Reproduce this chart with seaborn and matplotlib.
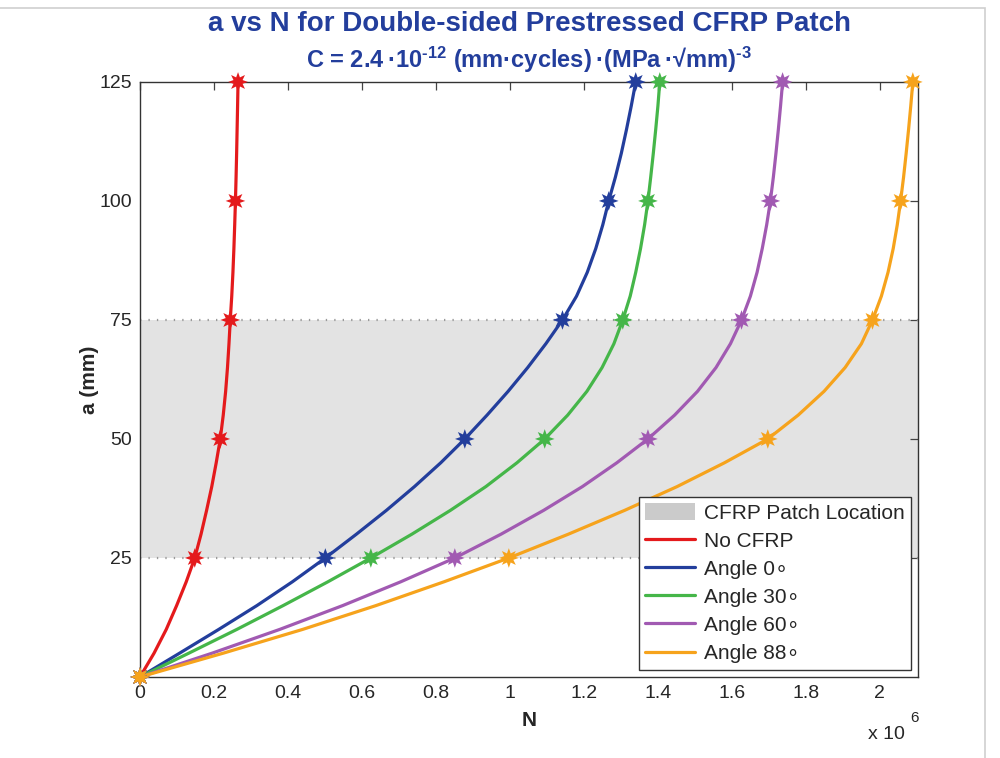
import matplotlib
matplotlib.use("Agg")
import numpy as np
import pandas as pd
import seaborn as sns
import matplotlib.pyplot as plt
from matplotlib.patches import Patch, Rectangle
from matplotlib.lines import Line2D

# crack length a (mm) at which the number of cycles is tabulated
a_mm = [0, 5, 10, 15, 20, 25, 30, 35, 40, 45, 50, 55, 60, 65, 70,
        75, 80, 85, 90, 95, 100, 105, 110, 115, 120, 125]

# number of cycles N (x 10^6) for each configuration
N_no_cfrp = [0, 0.038, 0.071, 0.099, 0.125, 0.148, 0.165, 0.180, 0.194, 0.206,
             0.217, 0.225, 0.2315, 0.2365, 0.2405, 0.244, 0.248, 0.2512, 0.2538,
             0.256, 0.258, 0.2597, 0.2612, 0.2625, 0.2638, 0.265]
N_angle0 = [0, 0.107, 0.213, 0.316, 0.412, 0.501, 0.585, 0.666, 0.742, 0.813,
            0.878, 0.938, 0.995, 1.048, 1.097, 1.142, 1.180, 1.209, 1.232,
            1.251, 1.267, 1.285, 1.301, 1.315, 1.328, 1.340]
N_angle30 = [0, 0.132, 0.262, 0.387, 0.508, 0.624, 0.735, 0.839, 0.935, 1.019,
             1.094, 1.156, 1.208, 1.249, 1.281, 1.305, 1.325, 1.340, 1.353,
             1.364, 1.373, 1.3805, 1.3875, 1.394, 1.400, 1.405]
N_angle60 = [0, 0.195, 0.378, 0.548, 0.705, 0.851, 0.976, 1.091, 1.196, 1.289,
             1.373, 1.445, 1.507, 1.557, 1.596, 1.626, 1.650, 1.668, 1.682,
             1.694, 1.704, 1.712, 1.719, 1.7255, 1.7315, 1.737]
N_angle88 = [0, 0.225, 0.440, 0.638, 0.822, 0.997, 1.158, 1.310, 1.452, 1.580,
             1.697, 1.779, 1.849, 1.906, 1.950, 1.980, 2.004, 2.022, 2.036,
             2.047, 2.056, 2.064, 2.071, 2.0775, 2.0835, 2.089]

series_names = ["No CFRP", "Angle 0\u2218", "Angle 30\u2218", "Angle 60\u2218", "Angle 88\u2218"]
series_values = [N_no_cfrp, N_angle0, N_angle30, N_angle60, N_angle88]
marked_a = [0, 25, 50, 75, 100, 125]

patch_bottom, patch_top = 25, 75
x_ticks = [0, 0.2, 0.4, 0.6, 0.8, 1.0, 1.2, 1.4, 1.6, 1.8, 2.0]
x_tick_labels = ["0", "0.2", "0.4", "0.6", "0.8", "1", "1.2", "1.4", "1.6", "1.8", "2"]
y_ticks = [25, 50, 75, 100, 125]

colors = ["#e41a1c", "#233e9c", "#45b649", "#a15ab2", "#f6a31c"]

df = pd.concat(
    [pd.DataFrame({"series": name, "a": a_mm, "N": vals})
     for name, vals in zip(series_names, series_values)],
    ignore_index=True,
)
marks = df[df["a"].isin(marked_a)]

sns.set_style("white")
plt.rcParams["font.family"] = ["Liberation Sans", "DejaVu Sans"]
plt.rcParams["mathtext.fontset"] = "custom"
plt.rcParams["mathtext.rm"] = "Liberation Sans:bold"
plt.rcParams["mathtext.it"] = "Liberation Sans:bold"
plt.rcParams["mathtext.bf"] = "Liberation Sans:bold"
plt.rcParams["mathtext.default"] = "rm"

fig = plt.figure(figsize=(10, 7.58), dpi=100)
ax = fig.add_axes([0.14, 0.1069, 0.778, 0.785])

# CFRP patch band
band_color = "#e3e3e3"
ax.axhspan(patch_bottom, patch_top, color=band_color, zorder=0, lw=0)
for yb in (patch_bottom, patch_top):
    ax.axhline(yb, color="#9a9a9a", lw=1.6, linestyle=(0, (0.6, 3.2)), zorder=1)

palette = dict(zip(series_names, colors))
sns.lineplot(data=df, x="N", y="a", hue="series", hue_order=series_names,
             palette=palette, sort=False, estimator=None, lw=2.3,
             legend=False, ax=ax, zorder=3)
sns.scatterplot(data=marks, x="N", y="a", hue="series", hue_order=series_names,
                palette=palette, marker=(8, 1, 0), s=200, linewidth=0,
                legend=False, ax=ax, zorder=4)
for coll in ax.collections:
    coll.set_clip_on(False)

ax.set_xlim(0, 2.103)
ax.set_ylim(0, 125)
ax.set_xticks(x_ticks)
ax.set_xticklabels(x_tick_labels)
ax.set_yticks(y_ticks)
ax.tick_params(direction="in", top=True, right=True, length=6, width=0.9,
               color="#444444", labelsize=14, pad=6)
for sp in ax.spines.values():
    sp.set_color("#333333")
    sp.set_linewidth(1.0)

ax.set_xlabel("N", fontsize=15, fontweight="bold", labelpad=6)
ax.set_ylabel("a (mm)", fontsize=15, fontweight="bold", labelpad=0)

fig.text(0.529, 0.985, "a vs N for Double-sided Prestressed CFRP Patch",
         ha="center", va="top", fontsize=20, fontweight="bold", color="#233e9c")
thin = "\u2009"
fig.text(0.529, 0.941,
         "C = 2.4" + thin + "\u00b7" + "10$^{\\text{-12}}$ (mm\u00b7cycles)" + thin
         + "\u00b7(MPa" + thin + "\u00b7\u221amm)$^{\\text{-3}}$",
         ha="center", va="top", fontsize=17, fontweight="bold", color="#233e9c")

# axis multiplier
fig.text(0.868, 0.020, "x 10", fontsize=14, ha="left", va="bottom")
fig.text(0.910, 0.044, "6", fontsize=11, ha="left", va="bottom")

handles = [Patch(facecolor="#cbcbcb", edgecolor="none", label="CFRP Patch Location")]
handles += [Line2D([], [], color=c, lw=2.3, label=n) for n, c in zip(series_names, colors)]
leg = ax.legend(handles=handles, loc="lower right", fontsize=15, frameon=True,
                fancybox=False, edgecolor="#333333", framealpha=1,
                handlelength=2.4, handleheight=0.9, labelspacing=0.4,
                handletextpad=0.4, borderpad=0.3, borderaxespad=0.35)
leg.get_frame().set_linewidth(1.0)

# thin outer frame
fig.patches.append(Rectangle((-0.01, -0.01), 0.995, 1.0, transform=fig.transFigure,
                             fill=False, edgecolor="#cfcfcf", lw=1.2))

fig.savefig("out.png", dpi=100, facecolor="white")
